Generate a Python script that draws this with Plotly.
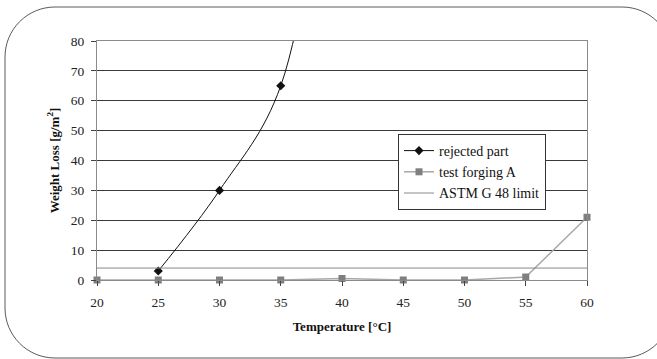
import plotly.graph_objects as go

# ---- data ----
rejected_temp = [25, 30, 35, 40]
rejected_loss = [3, 30, 65, 200]

forging_temp = [20, 25, 30, 35, 40, 45, 50, 55, 60]
forging_loss = [0, 0, 0, 0, 0.5, 0, 0, 1, 21]

astm_temp = [20, 60]
astm_loss = [4, 4]

x_ticks = [20, 25, 30, 35, 40, 45, 50, 55, 60]
y_ticks = [0, 10, 20, 30, 40, 50, 60, 70, 80]

W, H = 657, 359
L, R, T, B = 97, 70, 41, 79
PW, PH = W - L - R, H - T - B


def px(x):
    return (x - L) / PW


def py(y):
    return (H - B - y) / PH


FONT = "Liberation Serif, Times New Roman, serif"

fig = go.Figure()
fig.add_trace(go.Scatter(
    x=rejected_temp, y=rejected_loss, name="rejected part", mode="lines+markers",
    line=dict(color="#111111", width=1, shape="spline", smoothing=1.0),
    marker=dict(symbol="diamond", size=7, color="#111111"), cliponaxis=True))
fig.add_trace(go.Scatter(
    x=forging_temp, y=forging_loss, name="test forging A", mode="lines+markers",
    line=dict(color="#a8a8a8", width=1.5),
    marker=dict(symbol="square", size=7, color="#7f7f7f"), cliponaxis=False))
fig.add_trace(go.Scatter(
    x=astm_temp, y=astm_loss, name="ASTM G 48 limit", mode="lines",
    line=dict(color="#888888", width=1)))

# rounded frame around the whole chart
bl, bt, br, bb, r = 5, 7, 672, 358, 50
k = 0.5523 * r
path = (
    f"M {px(bl + r)},{py(bt)} L {px(br - r)},{py(bt)} "
    f"C {px(br - r + k)},{py(bt)} {px(br)},{py(bt + r - k)} {px(br)},{py(bt + r)} "
    f"L {px(br)},{py(bb - r)} "
    f"C {px(br)},{py(bb - r + k)} {px(br - r + k)},{py(bb)} {px(br - r)},{py(bb)} "
    f"L {px(bl + r)},{py(bb)} "
    f"C {px(bl + r - k)},{py(bb)} {px(bl)},{py(bb - r + k)} {px(bl)},{py(bb - r)} "
    f"L {px(bl)},{py(bt + r)} "
    f"C {px(bl)},{py(bt + r - k)} {px(bl + r - k)},{py(bt)} {px(bl + r)},{py(bt)} Z"
)

fig.update_layout(
    width=W, height=H,
    margin=dict(l=L, r=R, t=T, b=B, autoexpand=False),
    paper_bgcolor="white", plot_bgcolor="white",
    font=dict(family=FONT, size=13, color="#222222"),
    showlegend=True,
    legend=dict(
        x=px(398), y=py(134), xanchor="left", yanchor="top",
        bgcolor="white", bordercolor="#333333", borderwidth=1,
        font=dict(family=FONT, size=14, color="#111111"),
        itemwidth=30, tracegroupgap=0,
    ),
    shapes=[dict(type="path", path=path, xref="paper", yref="paper",
                 line=dict(color="#5a5a5a", width=1), layer="below")],
    xaxis=dict(
        range=[20, 60], tickvals=x_ticks, showgrid=False, zeroline=False,
        showline=True, linecolor="#8a8a8a", linewidth=1, mirror=True,
        ticks="outside", ticklen=5, tickcolor="#444444", ticklabelstandoff=5,
        tickfont=dict(family=FONT, size=13.5, color="#222222"),
        title=dict(text="<b>Temperature [°C]</b>", standoff=12,
                   font=dict(family=FONT, size=13, color="#111111")),
    ),
    yaxis=dict(
        range=[0, 80], tickvals=y_ticks, showgrid=True, gridcolor="#3a3a3a",
        gridwidth=1, zeroline=False,
        showline=True, linecolor="#8a8a8a", linewidth=1, mirror=True,
        ticks="outside", ticklen=5, tickcolor="#444444", ticklabelstandoff=4,
        tickfont=dict(family=FONT, size=13.5, color="#222222"),
        title=dict(text="<b>Weight Loss [g/m<sup>2</sup>]</b>", standoff=8,
                   font=dict(family=FONT, size=13, color="#111111")),
    ),
)

fig.write_html(
    "out.html",
    config={"displayModeBar": False},
    post_script="document.body.style.margin='0';document.body.style.padding='0';",
)
